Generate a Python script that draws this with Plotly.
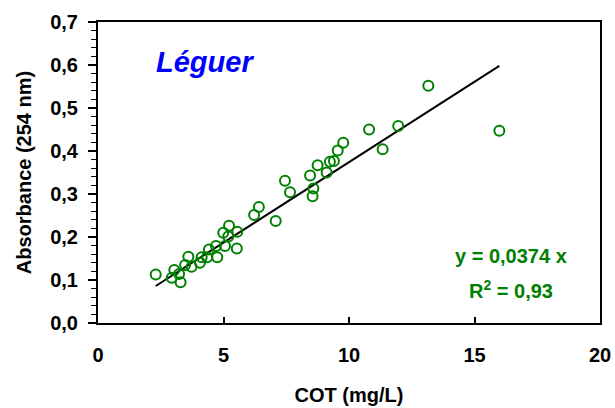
import plotly.graph_objects as go

cot = [2.30, 3.04, 2.94, 3.29, 3.23, 3.47, 3.60, 3.73, 4.06, 4.13, 4.42, 4.35, 4.75, 4.70,
       5.06, 5.19, 4.99, 5.22, 5.55, 5.53, 6.22, 6.41, 7.08, 7.45, 7.65, 8.45, 8.58, 8.55,
       8.75, 9.11, 9.24, 9.40, 9.55, 9.77, 10.80, 11.34, 11.96, 13.16, 15.99]
absorbance = [0.113, 0.123, 0.105, 0.095, 0.114, 0.135, 0.154, 0.131, 0.140, 0.153, 0.171,
              0.153, 0.153, 0.179, 0.179, 0.201, 0.210, 0.226, 0.212, 0.173, 0.251, 0.270,
              0.237, 0.331, 0.304, 0.343, 0.313, 0.295, 0.367, 0.350, 0.375, 0.377, 0.401,
              0.419, 0.450, 0.404, 0.458, 0.552, 0.447]
slope = 0.0374
r2 = 0.93
site = "Léguer"

fit_x = [min(cot), max(cot)]
fit_y = [slope * v for v in fit_x]

FONT = "Liberation Sans, Arial, sans-serif"

fig = go.Figure()
fig.add_trace(go.Scatter(x=fit_x, y=fit_y, mode="lines",
                         line=dict(color="black", width=2), showlegend=False))
fig.add_trace(go.Scatter(x=cot, y=absorbance, mode="markers",
                         marker=dict(symbol="circle-open", size=10,
                                     line=dict(color="#008000", width=2), color="#008000"),
                         showlegend=False))

fig.add_annotation(x=0.213, y=0.867, xref="paper", yref="paper", xanchor="center", yanchor="middle",
                   text="<b><i>" + site + "</i></b>",
                   showarrow=False, font=dict(family=FONT, size=29, color="#0000FF"))
fig.add_annotation(x=0.823, y=0.223, xref="paper", yref="paper", xanchor="center", yanchor="middle",
                   text="<b>y = " + f"{slope:.4f}".replace(".", ",") + " x</b>",
                   showarrow=False, font=dict(family=FONT, size=20, color="#008000"))
fig.add_annotation(x=0.823, y=0.11, xref="paper", yref="paper", xanchor="center", yanchor="middle",
                   text="<b>R<sup>2</sup> = " + f"{r2:.2f}".replace(".", ",") + "</b>",
                   showarrow=False, font=dict(family=FONT, size=20, color="#008000"))

fig.update_layout(
    width=615, height=408,
    margin=dict(l=98, r=15, t=22, b=85),
    paper_bgcolor="white", plot_bgcolor="white",
    separators=", ",
    font=dict(family=FONT, size=20, color="black"),
    xaxis=dict(range=[0, 20], dtick=5, tick0=0, showgrid=False, zeroline=False,
               automargin=False,
               showline=True, linecolor="black", linewidth=2, mirror=True,
               ticks="inside", ticklen=6, tickwidth=1.5, tickcolor="black",
               ticklabelstandoff=13,
               tickfont=dict(family=FONT, size=20, color="black", weight="bold"),
               title=dict(text="COT (mg/L)", standoff=23,
                          font=dict(family=FONT, size=20, color="black", weight="bold"))),
    yaxis=dict(range=[0, 0.7], dtick=0.1, tick0=0, tickformat=".1f",
               showgrid=False, zeroline=False, automargin=False,
               showline=True, linecolor="black", linewidth=2, mirror=True,
               ticks="outside", ticklen=8, tickwidth=1.5, tickcolor="black",
               ticklabelstandoff=6,
               minor=dict(dtick=0.02, ticks="outside", ticklen=5, tickwidth=1, tickcolor="black"),
               tickfont=dict(family=FONT, size=20, color="black", weight="bold"),
               title=dict(text="Absorbance (254 nm)", standoff=13,
                          font=dict(family=FONT, size=20, color="black", weight="bold"))),
)

# remove the browser's default 8px body margin so the 615x408 figure fills the window exactly
fig.write_html("out.html",
               config={"displayModeBar": False},
               post_script="document.body.style.margin='0';document.body.style.overflow='hidden';")
